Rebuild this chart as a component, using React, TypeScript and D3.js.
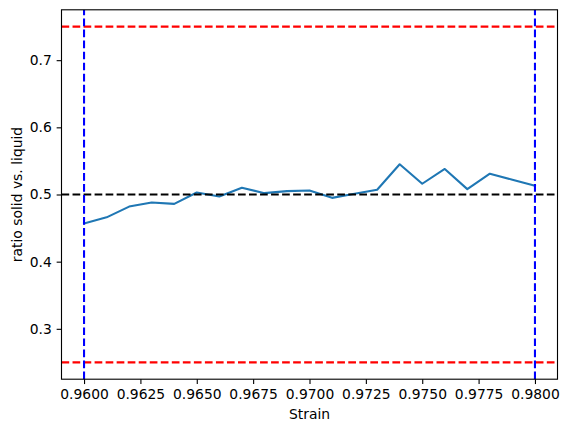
import React, { useRef, useEffect } from 'react';
import * as d3 from 'd3';

const strain = [
  0.96, 0.961, 0.962, 0.963, 0.964, 0.965, 0.966, 0.967, 0.968, 0.969, 0.97,
  0.971, 0.972, 0.973, 0.974, 0.975, 0.976, 0.977, 0.978, 0.979, 0.98,
];
const ratio = [
  0.457, 0.466, 0.482, 0.488, 0.486, 0.503, 0.497, 0.51, 0.502, 0.505, 0.506,
  0.495, 0.501, 0.507, 0.545, 0.516, 0.538, 0.508, 0.531, 0.522, 0.513,
];
const xTicks = [0.96, 0.9625, 0.965, 0.9675, 0.97, 0.9725, 0.975, 0.9775, 0.98];
const yTicks = [0.3, 0.4, 0.5, 0.6, 0.7];
const hLines = [
  { y: 0.5, color: 'black' },
  { y: 0.25, color: 'red' },
  { y: 0.75, color: 'red' },
];
const vLines = [0.96, 0.98];

const width = 569;
const height = 433;

const App: React.FC = () => {
  const svgRef = useRef<SVGSVGElement>(null);

  useEffect(() => {
    if (!svgRef.current) return;
    const svg = d3.select(svgRef.current);
    svg.selectAll('*').remove();

    const left = 61.5, right = 557.5, top = 9.8, bottom = 379.2;
    const font = 'DejaVu Sans, sans-serif';
    const fs = 13.89;
    const lw = 2.08;
    const dash = '7.7,3.33';

    const x = d3.scaleLinear().domain([0.959, 0.981]).range([left, right]);
    const y = d3.scaleLinear().domain([0.225, 0.775]).range([bottom, top]);

    svg.append('defs').append('clipPath').attr('id', 'plot-clip')
      .append('rect')
      .attr('x', left).attr('y', top)
      .attr('width', right - left).attr('height', bottom - top);

    const plot = svg.append('g').attr('clip-path', 'url(#plot-clip)');

    // data line
    const line = d3.line<number>()
      .x((_, i) => x(strain[i]))
      .y(d => y(d));
    plot.append('path')
      .datum(ratio)
      .attr('d', line)
      .attr('fill', 'none')
      .attr('stroke', '#1f77b4')
      .attr('stroke-width', lw)
      .attr('stroke-linejoin', 'round')
      .attr('stroke-linecap', 'square');

    // reference lines
    hLines.forEach(h => {
      plot.append('line')
        .attr('x1', left).attr('x2', right)
        .attr('y1', y(h.y)).attr('y2', y(h.y))
        .attr('stroke', h.color)
        .attr('stroke-width', lw)
        .attr('stroke-dasharray', dash);
    });
    vLines.forEach(v => {
      plot.append('line')
        .attr('x1', x(v)).attr('x2', x(v))
        .attr('y1', bottom).attr('y2', top)
        .attr('stroke', 'blue')
        .attr('stroke-width', lw)
        .attr('stroke-dasharray', dash);
    });

    // frame
    svg.append('rect')
      .attr('x', left).attr('y', top)
      .attr('width', right - left).attr('height', bottom - top)
      .attr('fill', 'none')
      .attr('stroke', 'black')
      .attr('stroke-width', 1.11);

    // x axis
    const xAxis = svg.append('g')
      .attr('transform', `translate(0,${bottom})`)
      .call(d3.axisBottom(x).tickValues(xTicks).tickFormat(d3.format('.4f'))
        .tickSizeInner(4.86).tickSizeOuter(0).tickPadding(4.86));
    xAxis.select('.domain').remove();
    xAxis.selectAll('line').attr('stroke', 'black').attr('stroke-width', 1.11);
    xAxis.selectAll('text')
      .attr('font-family', font).attr('font-size', fs).attr('fill', 'black');

    // y axis
    const yAxis = svg.append('g')
      .attr('transform', `translate(${left},0)`)
      .call(d3.axisLeft(y).tickValues(yTicks).tickFormat(d3.format('.1f'))
        .tickSizeInner(4.86).tickSizeOuter(0).tickPadding(4.86));
    yAxis.select('.domain').remove();
    yAxis.selectAll('line').attr('stroke', 'black').attr('stroke-width', 1.11);
    yAxis.selectAll('text')
      .attr('font-family', font).attr('font-size', fs).attr('fill', 'black');

    // labels
    svg.append('text')
      .attr('x', (left + right) / 2)
      .attr('y', 419)
      .attr('text-anchor', 'middle')
      .attr('font-family', font)
      .attr('font-size', fs)
      .text('Strain');

    svg.append('text')
      .attr('transform', `translate(22,${(top + bottom) / 2}) rotate(-90)`)
      .attr('text-anchor', 'middle')
      .attr('font-family', font)
      .attr('font-size', fs)
      .text('ratio solid vs. liquid');
  }, []);

  return (
    <svg
      ref={svgRef}
      width={width}
      height={height}
      style={{ position: 'absolute', left: 0, top: 0, background: 'white' }}
    />
  );
};

export default App;
